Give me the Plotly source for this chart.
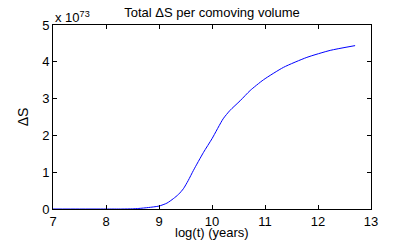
import plotly.graph_objects as go

# log10(t) in years
log_t = [7.0, 7.5, 8.0, 8.3, 8.5, 8.62, 8.8, 9.0, 9.15, 9.27, 9.37, 9.46, 9.55, 9.65, 9.84, 10.0,
         10.21, 10.34, 10.53, 10.72, 10.97, 11.35, 11.79, 12.23, 12.70]
# Total Delta S per comoving volume, in units of 1e73
delta_s = [0.0, 0.0, 0.0, 0.0, 0.005, 0.015, 0.04, 0.08, 0.16, 0.28, 0.40, 0.55, 0.77, 1.05, 1.54, 1.91,
           2.45, 2.68, 2.94, 3.22, 3.51, 3.85, 4.12, 4.31, 4.44]

x_ticks = [7, 8, 9, 10, 11, 12, 13]
y_ticks = [0, 1, 2, 3, 4, 5]

FONT = "Liberation Sans, Arial, sans-serif"

fig = go.Figure()
fig.add_trace(go.Scatter(x=log_t, y=delta_s, mode="lines",
                         line=dict(color="#0000ff", width=1, shape="spline", smoothing=0.6),
                         showlegend=False))

axis_common = dict(showline=True, linecolor="#000000", linewidth=1, mirror="ticks",
                   ticks="inside", ticklen=4, tickcolor="#000000", tickwidth=1,
                   showgrid=False, zeroline=False, automargin=False,
                   tickfont=dict(family=FONT, size=13, color="#000000"))

fig.update_xaxes(range=[7, 13], tickvals=x_ticks, ticktext=[str(v) for v in x_ticks],
                 **axis_common)
fig.update_yaxes(range=[0, 5], tickvals=y_ticks, ticktext=[str(v) for v in y_ticks],
                 title=dict(text="ΔS", font=dict(family=FONT, size=14, color="#000"),
                            standoff=10),
                 **axis_common)

fig.update_layout(
    width=410, height=242,
    margin=dict(l=53, r=39, t=25, b=33, autoexpand=False),
    paper_bgcolor="#ffffff", plot_bgcolor="#ffffff",
    title=dict(text="Total ΔS per comoving volume", x=(53 + 371) / 2 / 410, xanchor="center",
               y=1 - 12 / 242, yanchor="middle", automargin=False,
               font=dict(family=FONT, size=13, color="#000")),
    annotations=[
        dict(text="x 10<sup>73</sup>", xref="paper", yref="paper",
             x=0, y=1, xanchor="left", yanchor="bottom", yshift=-2, showarrow=False,
             font=dict(family=FONT, size=13, color="#000")),
        dict(text="log(t) (years)", xref="paper", yref="paper",
             x=0.5, y=-24 / 184, xanchor="center", yanchor="middle", showarrow=False,
             font=dict(family=FONT, size=13, color="#000")),
    ],
)

fig.write_html("out.html", config={"displayModeBar": False},
               post_script="document.body.style.margin='0px';document.body.style.overflow='hidden';")
